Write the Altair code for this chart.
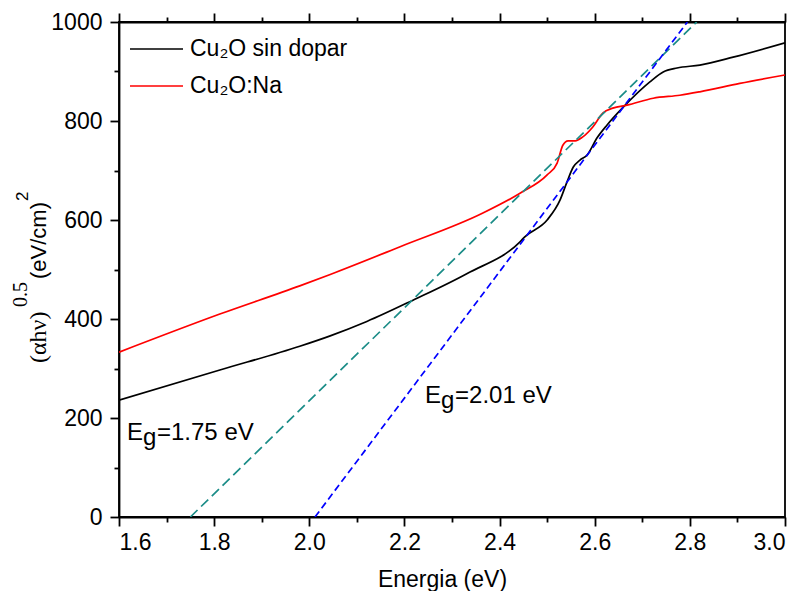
import altair as alt
import pandas as pd

# ---- data ----
black_x = [1.6, 1.812, 1.98, 2.044, 2.121, 2.218, 2.332, 2.443, 2.453, 2.5, 2.527,
           2.541, 2.555, 2.569, 2.584, 2.605, 2.626, 2.66, 2.716, 2.744, 2.773, 2.821, 2.891, 3.0]
black_y = [236, 297, 345, 366, 395, 438, 492, 556, 566, 600, 640,
           675, 707, 721, 731, 766, 792, 828, 879, 899, 907, 913, 929, 958]

red_x = [1.6, 1.812, 1.98, 2.044, 2.191, 2.365, 2.443, 2.5, 2.521, 2.533, 2.544, 2.559,
         2.575, 2.596, 2.617, 2.638, 2.668, 2.723, 2.779, 2.821, 2.905, 3.0]
red_y = [333, 410, 467, 490, 546, 614, 654, 691, 715, 751, 760, 760,
         768, 788, 816, 826, 832, 846, 852, 859, 876, 893]

teal_x = [1.75, 2.8144]
teal_y = [0, 1000]
blue_x = [2.012, 2.7948]
blue_y = [0, 1000]

series_names = ["Cu\u2082O sin dopar", "Cu\u2082O:Na"]
series_colors = ["black", "red"]

x_major = [1.6, 1.8, 2.0, 2.2, 2.4, 2.6, 2.8, 3.0]
x_minor = [1.7, 1.9, 2.1, 2.3, 2.5, 2.7, 2.9]
y_major = [0, 200, 400, 600, 800, 1000]
y_minor = [100, 300, 500, 700, 900]

ann_x = [1.6168, 2.2433]
ann_y = [156, 230]
ann_rest = ["=1.75 eV", "=2.01 eV"]

# ---- tables ----
curves = pd.concat([
    pd.DataFrame({"x": black_x, "y": black_y, "serie": series_names[0]}),
    pd.DataFrame({"x": red_x, "y": red_y, "serie": series_names[1]}),
])
teal = pd.DataFrame({"x": teal_x, "y": teal_y})
blue = pd.DataFrame({"x": blue_x, "y": blue_y})
ann = pd.DataFrame({"x": ann_x, "y": ann_y, "rest": ann_rest})
dummy = pd.DataFrame({"d": [0]})

FONT = "Liberation Sans"
xs = alt.Scale(domain=[1.6, 3.0], nice=False, zero=False)
ys = alt.Scale(domain=[0, 1000], nice=False)

curves_layer = alt.Chart(curves).mark_line(strokeWidth=1.7, interpolate="monotone", clip=True).encode(
    x=alt.X("x:Q", scale=xs, axis=alt.Axis(
        orient="bottom", values=x_major, format=".1f", tickSize=9, labelPadding=5,
        title="Energia (eV)", titleX=323, titleY=69, titleBaseline="alphabetic", titleAlign="center")),
    y=alt.Y("y:Q", scale=ys, axis=alt.Axis(orient="left", values=y_major, format="d", tickSize=9,
                                           labelPadding=8, title=None)),
    color=alt.Color("serie:N", scale=alt.Scale(domain=series_names, range=series_colors),
                    legend=alt.Legend(orient="none", legendX=10, legendY=12, title=None,
                                      symbolType="stroke", symbolSize=2809, symbolStrokeWidth=1.7,
                                      labelFontSize=23, labelFont=FONT, labelColor="black",
                                      labelOffset=6, clipHeight=30, rowPadding=7, padding=0,
                                      labelLimit=400)),
)

teal_layer = alt.Chart(teal).mark_line(color="#1a8c87", strokeDash=[10, 5], strokeWidth=1.7, clip=True).encode(
    x=alt.X("x:Q", scale=xs, axis=alt.Axis(orient="bottom", values=x_minor, tickSize=5, labels=False,
                                           domain=False, title=None)),
    y=alt.Y("y:Q", scale=ys, axis=alt.Axis(orient="left", values=y_minor, tickSize=5, labels=False,
                                           domain=False, title=None)),
)

blue_layer = alt.Chart(blue).mark_line(color="#0000ff", strokeDash=[7, 4], strokeWidth=1.7, clip=True).encode(
    x=alt.X("x:Q", scale=xs, axis=alt.Axis(orient="top", values=x_major, tickSize=9, labels=False,
                                           domain=True, title=None)),
    y=alt.Y("y:Q", scale=ys, axis=None),
)

e_layer = alt.Chart(ann).mark_text(text="E", align="left", baseline="alphabetic", fontSize=24,
                                   font=FONT, color="black").encode(
    x=alt.X("x:Q", scale=xs, axis=alt.Axis(orient="top", values=x_minor, tickSize=5, labels=False,
                                           domain=False, title=None)),
    y=alt.Y("y:Q", scale=ys, axis=None),
)
g_layer = alt.Chart(ann).mark_text(text="g", align="left", baseline="alphabetic", fontSize=24,
                                   dx=16, dy=5, font=FONT, color="black").encode(
    x=alt.X("x:Q", scale=xs, axis=None),
    y=alt.Y("y:Q", scale=ys, axis=None),
)
rest_layer = alt.Chart(ann).mark_text(align="left", baseline="alphabetic", fontSize=24,
                                      dx=30, font=FONT, color="black").encode(
    x=alt.X("x:Q", scale=xs, axis=None),
    y=alt.Y("y:Q", scale=ys, axis=None),
    text="rest:N",
)


def piece(t, px, py, font, size):
    return alt.Chart(dummy).mark_text(text=t, angle=270, align="left", baseline="alphabetic",
                                      font=font, fontSize=size, color="black").encode(
        x=alt.value(px), y=alt.value(py))


title_layers = [
    piece("(\u03b1h\u03bd)", -73, 341, "Liberation Serif", 24),
    piece("0.5", -92, 285, "Liberation Serif", 20),
    piece("(eV/cm)", -73, 257, FONT, 22),
    piece("2", -91, 179, FONT, 17),
]

chart = alt.layer(curves_layer, teal_layer, blue_layer, e_layer, g_layer, rest_layer, *title_layers).resolve_axis(
    x="independent", y="independent"
).properties(
    width=666, height=495,
    autosize=alt.AutoSizeParams(type="none"),
    padding={"left": 111, "top": 14, "right": 10, "bottom": 74},
).configure_view(
    stroke="black", strokeWidth=1.8
).configure_axis(
    grid=False, labelFont=FONT, labelFontSize=23, labelColor="black",
    titleFont=FONT, titleFontSize=23, titleFontWeight="normal", titleColor="black",
    tickColor="black", tickWidth=1.8, domainColor="black", domainWidth=1.8,
)

chart.save("out.html", embed_options={"renderer": "svg", "actions": False})
